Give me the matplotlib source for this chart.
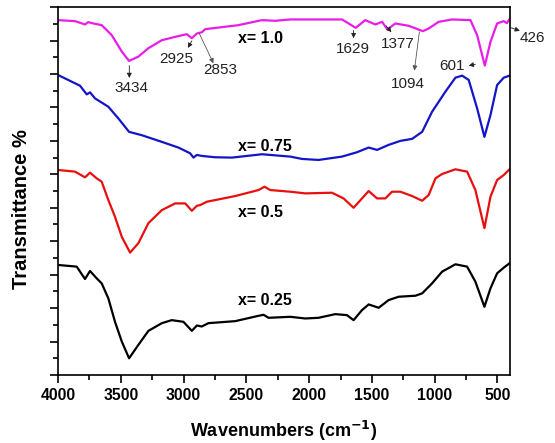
import matplotlib
matplotlib.use("Agg")
import matplotlib.pyplot as plt
from matplotlib.ticker import MultipleLocator

plt.rcParams['font.family'] = ['Liberation Sans', 'DejaVu Sans']

# ---- data (wavenumber, offset transmittance) ----
wn_10 = [4000, 3864, 3785, 3760, 3730, 3652, 3572, 3492, 3434, 3360, 3280, 3173, 3067,
         2974, 2934, 2894, 2853, 2828, 2563, 2376, 2270, 2150, 1738, 1629, 1553, 1473,
         1419, 1377, 1313, 1207, 1094, 1048, 968, 861, 715, 662, 601, 556, 503, 450,
         426, 404]
t_10 = [10.61, 10.58, 10.48, 10.55, 10.52, 10.46, 10.16, 9.67, 9.39, 9.52, 9.77, 10.01, 10.11,
        10.19, 10.07, 10.21, 10.25, 10.34, 10.46, 10.61, 10.59, 10.63, 10.63, 10.38, 10.61, 10.48,
        10.56, 10.33, 10.51, 10.44, 10.28, 10.36, 10.56, 10.63, 10.61, 10.16, 9.25, 9.96, 10.51, 10.58,
        10.52, 10.64]

wn_075 = [4000, 3918, 3825, 3771, 3745, 3705, 3599, 3519, 3434, 3333, 3173, 3041, 2948,
          2921, 2894, 2855, 2748, 2615, 2376, 2150, 2057, 1925, 1738, 1619, 1526, 1459,
          1367, 1273, 1180, 1100, 1021, 915, 835, 781, 729, 662, 604, 556, 503, 450, 404]
t_075 = [8.97, 8.82, 8.65, 8.39, 8.45, 8.27, 8.02, 7.67, 7.27, 7.17, 6.97, 6.80, 6.63,
         6.50, 6.58, 6.55, 6.51, 6.50, 6.60, 6.53, 6.46, 6.43, 6.53, 6.66, 6.80, 6.73,
         6.88, 7.00, 7.06, 7.27, 7.87, 8.47, 8.89, 8.95, 8.82, 7.97, 7.12, 7.77, 8.67, 8.89, 8.95]

wn_05 = [4000, 3864, 3785, 3745, 3692, 3652, 3599, 3546, 3492, 3426, 3360, 3280, 3173,
         3067, 2987, 2934, 2894, 2868, 2815, 2589, 2403, 2355, 2310, 2150, 2031, 1818,
         1726, 1646, 1579, 1526, 1459, 1393, 1340, 1273, 1180, 1100, 1048, 994, 941,
         835, 742, 676, 604, 556, 503, 450, 404]
t_05 = [6.13, 6.08, 5.91, 6.05, 5.88, 5.78, 5.23, 4.73, 4.13, 3.66, 3.94, 4.54, 4.93,
        5.13, 5.13, 4.91, 5.06, 5.08, 5.18, 5.35, 5.53, 5.63, 5.53, 5.48, 5.43, 5.45,
        5.28, 5.00, 5.28, 5.50, 5.28, 5.28, 5.48, 5.48, 5.35, 5.21, 5.38, 5.88, 6.01,
        6.15, 6.08, 5.53, 4.39, 5.33, 5.83, 5.98, 6.15]

wn_025 = [4000, 3851, 3785, 3745, 3692, 3652, 3599, 3546, 3492, 3434, 3360, 3280, 3173,
          3094, 3001, 2934, 2894, 2855, 2802, 2589, 2403, 2363, 2323, 2150, 2031, 1925,
          1792, 1699, 1646, 1579, 1526, 1446, 1367, 1287, 1154, 1100, 1021, 941, 835,
          742, 676, 604, 556, 503, 450, 404]
t_025 = [3.29, 3.24, 2.87, 3.11, 2.89, 2.74, 2.29, 1.59, 1.00, 0.50, 0.90, 1.32, 1.55,
         1.64, 1.59, 1.32, 1.48, 1.45, 1.55, 1.61, 1.77, 1.80, 1.71, 1.74, 1.69, 1.71,
         1.82, 1.79, 1.64, 1.94, 2.11, 2.01, 2.24, 2.34, 2.37, 2.44, 2.74, 3.09, 3.31,
         3.24, 2.79, 2.04, 2.59, 3.04, 3.21, 3.34]

sample_labels = ['x= 0.25', 'x= 0.5', 'x= 0.75', 'x= 1.0']
sample_label_y = [2.24, 4.87, 6.82, 10.07]

# peak labels of the x = 1.0 spectrum
peak_names = ['3434', '2925', '2853', '1629', '1377', '1094', '601', '426']

fig = plt.figure(figsize=(5.55, 4.43), dpi=100)
ax = fig.add_axes([0.1045, 0.1535, 0.8145, 0.8305])

colors = ['black', '#e80f0f', '#1414c8', '#e81ee8']
for (wn, t), c, lab, ly in zip([(wn_025, t_025), (wn_05, t_05), (wn_075, t_075), (wn_10, t_10)],
                               colors, sample_labels, sample_label_y):
    ax.plot(wn, t, color=c, lw=1.6, solid_joinstyle='round')
    ax.text(2565, ly, lab, fontsize=11.5, fontweight='bold', va='center', ha='left')

# arrow start/end and label centre for each peak
arr = [((3432, 9.25), (3432, 8.88)),
       ((2934, 9.99), (2966, 9.78)),
       ((2876, 10.22), (2762, 9.32)),
       ((1646, 10.30), (1646, 10.07)),
       ((1387, 10.44), (1345, 10.25)),
       ((1122, 10.26), (1162, 9.10)),
       ((676, 9.29), (729, 9.25)),
       ((391, 10.38), (322, 10.29))]
lbl = [(3418, 8.58), (3055, 9.45), (2708, 9.12), (1648, 9.75), (1293, 9.90),
       (1210, 8.70), (859, 9.24), (225, 10.07)]
for txt, (a0, a1), p in zip(peak_names, arr, lbl):
    thin = txt in ('2853', '1094')
    ax.annotate('', xy=a1, xytext=a0,
                arrowprops=dict(arrowstyle='-|>', color='#555555' if thin else '#222222',
                                lw=0.6, mutation_scale=7, shrinkA=0, shrinkB=0),
                annotation_clip=False)
    ax.text(p[0], p[1], txt, fontsize=11, color='#222222', ha='center', va='center',
            clip_on=False)

ax.set_xlim(4000, 400)
ax.set_ylim(0, 11)
ax.xaxis.set_major_locator(MultipleLocator(500))
ax.xaxis.set_minor_locator(MultipleLocator(250))
ax.yaxis.set_major_locator(MultipleLocator(1))
ax.yaxis.set_minor_locator(MultipleLocator(0.5))
ax.set_yticklabels([])
ax.tick_params(which='major', direction='out', length=6, width=1.2, labelsize=11.3)
ax.tick_params(which='minor', direction='out', length=3.5, width=1.2)
for lab in ax.get_xticklabels():
    lab.set_fontweight('bold')
for s in ax.spines.values():
    s.set_linewidth(1.2)

ax.set_xlabel('Wavenumbers (cm$^{\\mathbf{-1}}$)', fontsize=13, fontweight='bold', labelpad=11)
ax.set_ylabel('Transmittance %', fontsize=14.5, fontweight='bold')
ax.yaxis.set_label_coords(-0.06, 0.451)

fig.savefig('out.png', dpi=100)
